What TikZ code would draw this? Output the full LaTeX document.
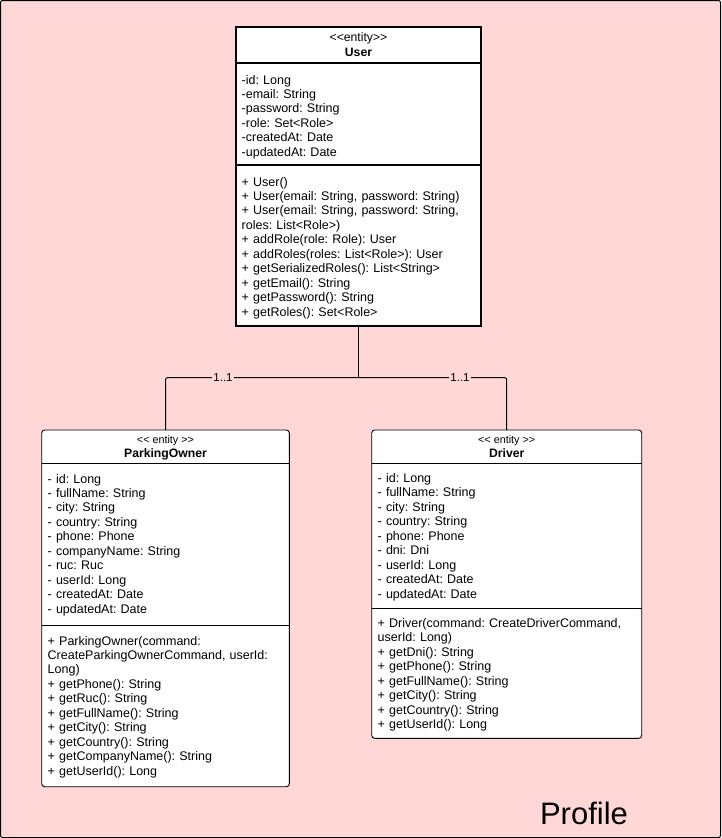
\documentclass[tikz,border=0pt]{standalone}
\usepackage{fontspec}
\setmainfont{Liberation Sans}
\frenchspacing
\definecolor{bgpink}{RGB}{255,215,215}
\newcommand{\lt}{<{}}
\newcommand{\gt}{>{}}
\begin{document}
\frenchspacing
\begin{tikzpicture}[x=1pt,y=-1pt,
  box/.style={draw=black, fill=white, line width=0.9pt, inner sep=0pt, outer sep=0pt, anchor=north west},
  userbox/.style={box, line width=1.4pt},
  rbox/.style={box, rounded corners=3pt},
  sepline/.style={line width=0.9pt},
  usep/.style={line width=1.4pt},
  txt/.style={anchor=base west, inner sep=0pt, align=left, font=\fontsize{12.5}{14.45}\selectfont\frenchspacing},
  stereo/.style={anchor=base, inner sep=0pt, font=\fontsize{10.8}{12}\selectfont},
  ustereo/.style={anchor=base, inner sep=0pt, font=\fontsize{12.2}{13}\selectfont},
  cname/.style={anchor=base, inner sep=0pt, font=\bfseries\fontsize{12.2}{14}\selectfont},
  conn/.style={line width=1pt, rounded corners=2pt},
  mult/.style={fill=bgpink, inner sep=1pt, font=\fontsize{11.5}{13}\selectfont}
]
\useasboundingbox (0,0) rectangle (721,838);
\node[draw, line width=1pt, fill=bgpink, rounded corners=2pt, anchor=north west,
      minimum width=720pt, minimum height=837pt, inner sep=0pt, outer sep=0pt] (frame) at (0.5,0.5) {};

% ---------- User ----------
\node[userbox, minimum width=245pt, minimum height=299pt] (user) at (236,27) {};
\draw[usep] (236,63) -- (481,63);
\draw[usep] (236,165) -- (481,165);
\node[ustereo] (userst) at (358.5,41.8) {\lt\lt entity\gt\gt};
\node[cname] (usern) at (358.5,56) {User};
\node[txt, text width=238pt] (usera) at (241.5,84) {-id: Long\\-email: String\\-password: String\\-role: Set\lt Role\gt\\-createdAt: Date\\-updatedAt: Date};
\node[txt, text width=238pt] (userm) at (241.5,186) {+ User()\\+ User(email: String, password: String)\\+ User(email: String, password: String,\\roles: List\lt Role\gt)\\+ addRole(role: Role): User\\+ addRoles(roles: List\lt Role\gt): User\\+ getSerializedRoles(): List\lt String\gt\\+ getEmail(): String\\+ getPassword(): String\\+ getRoles(): Set\lt Role\gt};

% ---------- ParkingOwner ----------
\node[rbox, minimum width=247.6pt, minimum height=356.7pt] (po) at (41.7,430) {};
\draw[sepline] (41.7,463.3) -- (289.3,463.3);
\draw[sepline] (41.7,625.3) -- (289.3,625.3);
\node[stereo] (post) at (165.5,443.5) {\lt\lt{} entity \gt\gt};
\node[cname] (pon) at (165.5,457) {ParkingOwner};
\node[txt, text width=240pt] (poa) at (47.5,483) {- id: Long\\- fullName: String\\- city: String\\- country: String\\- phone: Phone\\- companyName: String\\- ruc: Ruc\\- userId: Long\\- createdAt: Date\\- updatedAt: Date};
\node[txt, text width=240pt] (pom) at (47.5,645) {+ ParkingOwner(command:\\CreateParkingOwnerCommand, userId:\\Long)\\+ getPhone(): String\\+ getRuc(): String\\+ getFullName(): String\\+ getCity(): String\\+ getCountry(): String\\+ getCompanyName(): String\\+ getUserId(): Long};

% ---------- Driver ----------
\node[rbox, minimum width=270pt, minimum height=308.3pt] (drv) at (371.7,430) {};
\draw[sepline] (371.7,463.3) -- (641.7,463.3);
\draw[sepline] (371.7,608.3) -- (641.7,608.3);
\node[stereo] (drvst) at (506.7,443.5) {\lt\lt{} entity \gt\gt};
\node[cname] (drvn) at (506.7,457) {Driver};
\node[txt, text width=263pt] (drva) at (377.5,482.5) {- id: Long\\- fullName: String\\- city: String\\- country: String\\- phone: Phone\\- dni: Dni\\- userId: Long\\- createdAt: Date\\- updatedAt: Date};
\node[txt, text width=263pt] (drvm) at (377.5,627.5) {+ Driver(command: CreateDriverCommand,\\userId: Long)\\+ getDni(): String\\+ getPhone(): String\\+ getFullName(): String\\+ getCity(): String\\+ getCountry(): String\\+ getUserId(): Long};

% ---------- connectors ----------
\coordinate (junction) at (358.5,377.7);
\draw[conn] (user.south) -- (junction);
\draw[conn] (junction) -| (po.north);
\draw[conn] (junction) -| (drv.north);
\node[mult] (m1) at (223,377.7) {1..1};
\node[mult] (m2) at (460,377.7) {1..1};

% ---------- package label ----------
\node[inner sep=0pt, font=\fontsize{31}{34}\selectfont] (pkg) at (584,813) {Profile};
\end{tikzpicture}
\end{document}
